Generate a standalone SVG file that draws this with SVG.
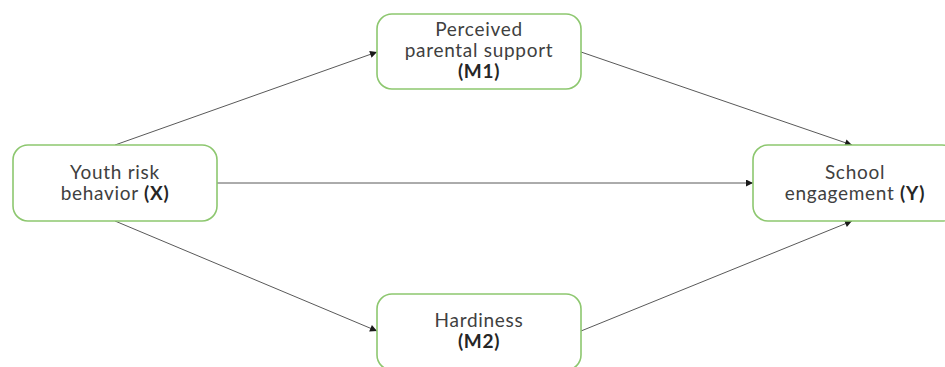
<svg xmlns="http://www.w3.org/2000/svg" width="945" height="367" viewBox="0 0 945 367">
<style>
.box{fill:#fff;stroke:#8dc76f;stroke-width:1.6}
.lbl{font-family:Lato,"Open Sans","Liberation Sans",sans-serif;font-size:19px;letter-spacing:0.7px;fill:#404040;text-anchor:middle}
.b{font-weight:bold;fill:#262626}
.conn{stroke:#595959;stroke-width:1;fill:none;marker-end:url(#ah)}
</style>
<defs>
<marker id="ah" viewBox="0 0 10 10" refX="10" refY="5" markerWidth="8" markerHeight="7" markerUnits="userSpaceOnUse" orient="auto">
<path d="M0,0 L10,5 L0,10 z" fill="#1a1a1a"/>
</marker>
</defs>
<rect width="945" height="367" fill="#fff"/>
<g id="connectors">
<line class="conn" x1="115" y1="145" x2="377" y2="52"/>
<line class="conn" x1="581" y1="52" x2="852" y2="145"/>
<line class="conn" x1="217" y1="183" x2="753" y2="183"/>
<line class="conn" x1="115" y1="221" x2="377" y2="331"/>
<line class="conn" x1="581" y1="331" x2="852" y2="221"/>
</g>
<g id="X">
<rect class="box" x="13" y="145" width="204" height="76" rx="15"/>
<text class="lbl" x="115" y="179">Youth risk</text>
<text class="lbl" x="115" y="200">behavior <tspan class="b">(X)</tspan></text>
</g>
<g id="M1">
<rect class="box" x="377" y="14" width="204" height="75" rx="15"/>
<text class="lbl" x="479" y="36">Perceived</text>
<text class="lbl" x="479" y="57">parental support</text>
<text class="lbl b" x="479" y="78">(M1)</text>
</g>
<g id="M2">
<rect class="box" x="377" y="294" width="204" height="76" rx="15"/>
<text class="lbl" x="479" y="327">Hardiness</text>
<text class="lbl b" x="479" y="348">(M2)</text>
</g>
<g id="Y">
<rect class="box" x="753" y="145" width="204" height="76" rx="15"/>
<text class="lbl" x="855" y="179">School</text>
<text class="lbl" x="855" y="200">engagement <tspan class="b">(Y)</tspan></text>
</g>
</svg>
